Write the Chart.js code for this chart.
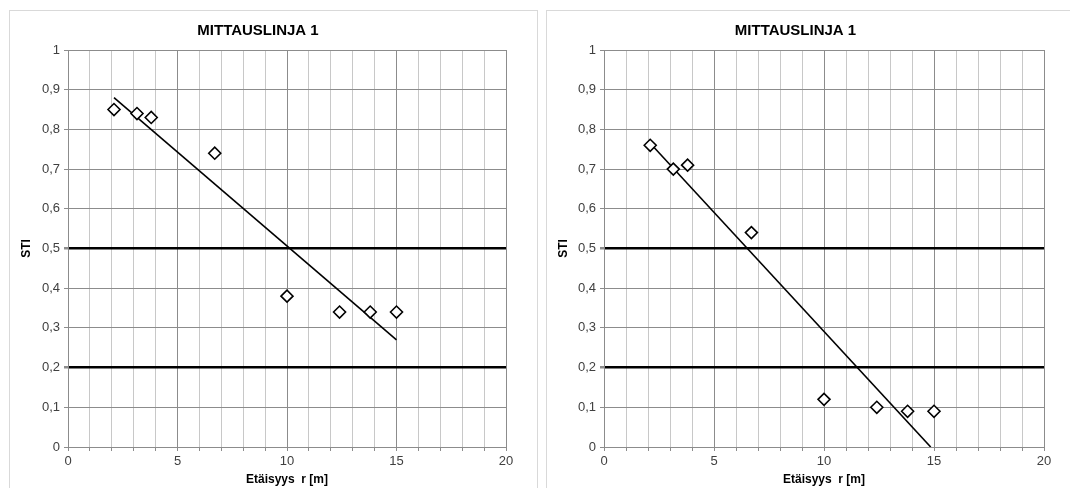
<!DOCTYPE html>
<html lang="fi">
<head>
  <meta charset="UTF-8" />
  <title>Mittauslinja 1</title>
  <style>
    body, html {
      margin: 0;
      padding: 0;
      background: #fff;
      font-family: 'Liberation Sans', Arial, sans-serif;
      overflow: hidden;
    }
    .panel {
      position: absolute;
      border: 1px solid #d9d9d9;
      background: #fff;
    }
    #p1 { left: 9px; top: 10px; width: 527px; height: 490px; }
    #p2 { left: 546px; top: 10px; width: 530px; height: 490px; }
    canvas { display: block; }
  </style>
</head>
<body>

<div class="panel" id="p1"><canvas id="chart1" width="527" height="477"></canvas></div>
<div class="panel" id="p2"><canvas id="chart2" width="523" height="477"></canvas></div>

<script src="https://cdn.jsdelivr.net/npm/chart.js"></script>
<script>
  // mittauspisteet (etäisyys m, STI)
  const distances = [2.1, 3.15, 3.8, 6.7, 10, 12.4, 13.8, 15];
  const sti1 = [0.85, 0.84, 0.83, 0.74, 0.38, 0.34, 0.34, 0.34];
  const sti2 = [0.76, 0.70, 0.71, 0.54, 0.12, 0.10, 0.09, 0.09];

  // trendiviivojen päätepisteet
  const trend1X = [2.1, 15];
  const trend1Y = [0.88, 0.27];
  const trend2X = [2.1, 14.85];
  const trend2Y = [0.765, 0];

  const xTicks = [0, 5, 10, 15, 20];
  const refLines = [0.2, 0.5];
  const titleText = 'MITTAUSLINJA 1';
  const xTitle = 'Etäisyys  r [m]';
  const yTitle = 'STI';

  function pts(xs, ys) {
    return xs.map((x, i) => ({ x: x, y: ys[i] }));
  }

  function isRef(v) {
    return refLines.some(r => Math.abs(r - v) < 1e-6);
  }

  function makeChart(id, data, trendX, trendY, yWidth, padRight) {
    const ctx = document.getElementById(id).getContext('2d');
    return new Chart(ctx, {
      type: 'scatter',
      data: {
        datasets: [{
          label: 'STI',
          data: pts(distances, data),
          pointStyle: 'rectRot',
          pointRadius: 6,
          pointHoverRadius: 6,
          borderColor: '#000',
          backgroundColor: '#fff',
          borderWidth: 1.6,
          showLine: false
        }, {
          label: 'trendi',
          data: pts(trendX, trendY),
          showLine: true,
          pointRadius: 0,
          borderColor: '#000',
          borderWidth: 1.6,
          fill: false
        }]
      },
      options: {
        responsive: false,
        animation: false,
        layout: { padding: { left: 0, right: padRight, top: 0, bottom: 0 } },
        plugins: {
          legend: { display: false },
          tooltip: { enabled: false },
          title: {
            display: true,
            text: titleText,
            color: '#000',
            font: { family: 'Liberation Sans', size: 15, weight: 'bold' },
            padding: { top: 10.5, bottom: 10.5 }
          }
        },
        scales: {
          x: {
            type: 'linear',
            min: 0,
            max: 20,
            afterFit: s => { s.height = 41; },
            ticks: {
              stepSize: 1,
              autoSkip: false,
              maxRotation: 0,
              padding: 3,
              color: '#404040',
              font: { family: 'Liberation Sans', size: 13 },
              callback: v => xTicks.includes(v) ? String(v) : ''
            },
            grid: {
              color: c => (c.tick && c.tick.value % 5 === 0) ? '#8c8c8c' : '#c8c8c8',
              lineWidth: 1,
              tickLength: 4,
              tickColor: '#8c8c8c'
            },
            border: { color: '#8c8c8c' },
            title: {
              display: true,
              text: xTitle,
              color: '#000',
              font: { family: 'Liberation Sans', size: 12, weight: 'bold' },
              padding: { top: 0, bottom: 1 }
            }
          },
          y: {
            min: 0,
            max: 1,
            afterFit: s => { s.width = yWidth; },
            ticks: {
              stepSize: 0.1,
              padding: 4,
              color: '#404040',
              font: { family: 'Liberation Sans', size: 13 },
              callback: v => String(Math.round(v * 10) / 10).replace('.', ',')
            },
            grid: {
              color: c => isRef(c.tick.value) ? '#000' : '#8c8c8c',
              lineWidth: c => isRef(c.tick.value) ? 2.5 : 1,
              tickLength: 4,
              tickColor: '#8c8c8c'
            },
            border: { color: '#8c8c8c' },
            title: {
              display: true,
              text: yTitle,
              color: '#000',
              font: { family: 'Liberation Sans', size: 12, weight: 'bold' },
              padding: { top: 9, bottom: 0 }
            }
          }
        }
      }
    });
  }

  makeChart('chart1', sti1, trend1X, trend1Y, 58, 31);
  makeChart('chart2', sti2, trend2X, trend2Y, 57, 26);
</script>
</body>
</html>
